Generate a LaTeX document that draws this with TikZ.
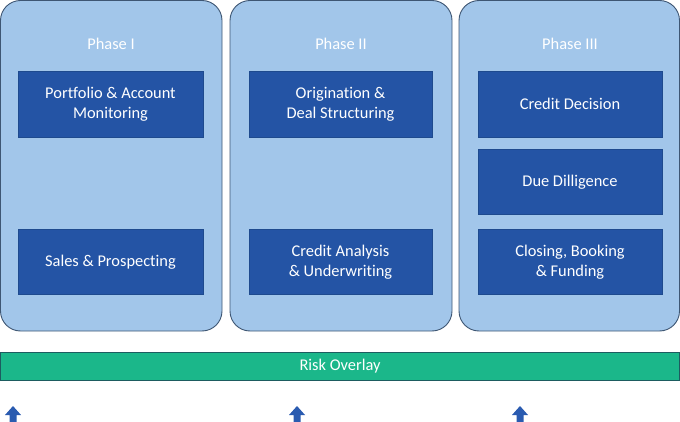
\documentclass[tikz,border=0pt]{standalone}
\usepackage{fontspec}
\setmainfont{Carlito}[Ligatures={NoCommon}]
\definecolor{phasefill}{HTML}{A2C6EA}
\definecolor{phaseline}{HTML}{3E5673}
\definecolor{stepfill}{HTML}{2454A5}
\definecolor{stepline}{HTML}{1E4A8E}
\definecolor{riskfill}{HTML}{1BB78A}
\definecolor{riskline}{HTML}{1D5C60}
\definecolor{arrowblue}{HTML}{2A5BB0}
\begin{document}
\begin{tikzpicture}[x=1pt,y=-1pt,
  phasebox/.style={draw=phaseline,line width=0.9pt,fill=phasefill,rounded corners=20pt},
  stepbox/.style={draw=stepline,line width=0.4pt,fill=stepfill},
  steptext/.style={text=white,align=center,font=\fontsize{16.4}{20}\selectfont},
  phaselabel/.style={text=white,font=\fontsize{16.4}{20}\selectfont},
  riskbar/.style={draw=riskline,line width=0.8pt,fill=riskfill},
  uparrow/.style={fill=arrowblue}]
\useasboundingbox (0,0) rectangle (680,422);
% phase containers
\path[phasebox] (0.5,0.5) rectangle (222,331);
\path[phasebox] (230,0.5) rectangle (452,331);
\path[phasebox] (459,0.5) rectangle (679.5,331);
\node[phaselabel] (p1) at (111,44) {Phase I};
\node[phaselabel] (p2) at (341,44) {Phase II};
\node[phaselabel] (p3) at (570,44) {Phase III};
% steps
\path[stepbox] (18,71) rectangle (203,137);
\node[steptext] (s1) at (110.5,104) {Portfolio \& Account\\Monitoring};
\path[stepbox] (18,229) rectangle (203,294);
\node[steptext] (s2) at (110.5,262) {Sales \& Prospecting};
\path[stepbox] (249,71) rectangle (432,137);
\node[steptext] (s3) at (340.5,104) {Origination \&\\Deal Structuring};
\path[stepbox] (249,229) rectangle (432,294);
\node[steptext] (s4) at (340.5,262) {Credit Analysis\\\& Underwriting};
\path[stepbox] (478,71) rectangle (662,137);
\node[steptext] (s5) at (570,104) {Credit Decision};
\path[stepbox] (478,149) rectangle (662,214);
\node[steptext] (s6) at (570,182) {Due Dilligence};
\path[stepbox] (478,229) rectangle (662,294);
\node[steptext] (s7) at (570,262) {Closing, Booking\\\& Funding};
% risk overlay
\path[riskbar] (0.4,352) rectangle (679.6,380);
\node[steptext] (risk) at (340,366) {Risk Overlay};
% arrows
\foreach \cx in {13,297,520}{
  \fill[uparrow] (\cx,406) -- (\cx+8,415) -- (\cx+3.5,415) -- (\cx+3.5,422) -- (\cx-3.5,422) -- (\cx-3.5,415) -- (\cx-8,415) -- cycle;
}
\end{tikzpicture}
\end{document}
